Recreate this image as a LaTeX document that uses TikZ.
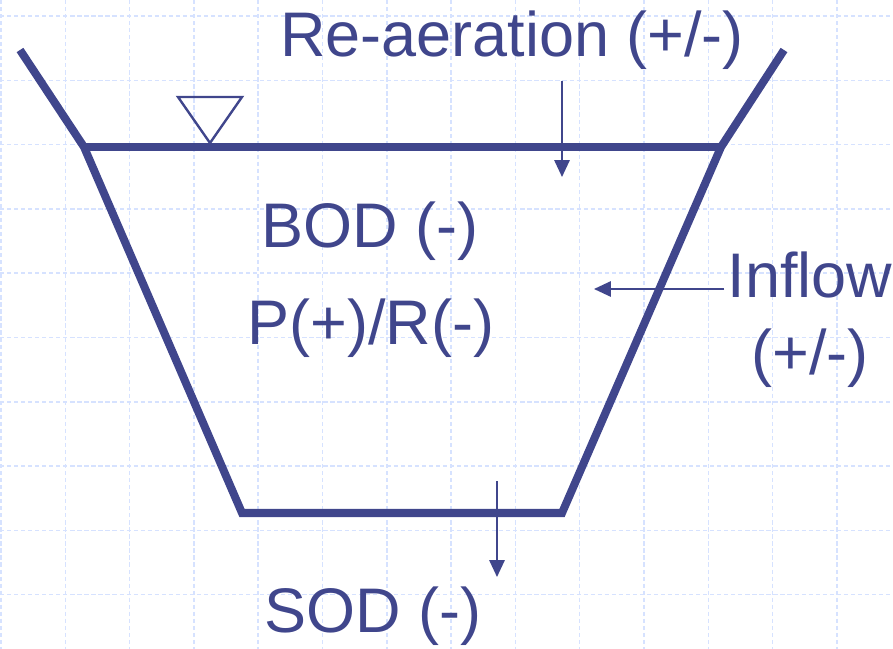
\documentclass[tikz,border=0pt]{standalone}
\usepackage{fontspec}
\setmainfont{Liberation Sans}
\usepackage{xcolor}
\usetikzlibrary{arrows.meta}
\usetikzlibrary{positioning}

\definecolor{chanblue}{RGB}{64,70,140}
\definecolor{gridblue}{RGB}{214,226,255}

\begin{document}
\begin{tikzpicture}[
  x=0.025cm, y=-0.025cm,
  label/.style={anchor=base, inner sep=0pt, text=chanblue,
    font=\fontsize{44.8pt}{54pt}\selectfont},
  bank/.style={draw=chanblue, line width=5.7pt, line join=miter},
  flux/.style={-{Triangle[length=4.2mm, width=3.8mm]}, draw=chanblue, fill=chanblue, line width=1.4pt},
]
  \useasboundingbox (0,0) rectangle (893,649);

  % Grid
  \foreach \i in {0,...,13}
    \draw[gridblue, line width=1.1pt, dash pattern=on 3pt off 2pt] (1+64.3*\i,0) -- (1+64.3*\i,649);
  \foreach \j in {0,...,9}
    \draw[gridblue, line width=1.1pt, dash pattern=on 3pt off 2pt] (0,16+64.3*\j) -- (893,16+64.3*\j);

  % Channel
  \coordinate (LT) at (20,50);
  \coordinate (LW) at (84,147);
  \coordinate (LB) at (242,513);
  \coordinate (RB) at (562,513);
  \coordinate (RW) at (721,147);
  \coordinate (RT) at (784,50);
  \draw[bank] (LT) -- (LW) -- (LB) -- (RB) -- (RW) -- (RT);
  \draw[bank] (LW) -- (RW);

  % Water level mark
  \draw[chanblue, line width=1.7pt, line join=miter] (178,97) -- (242,97) -- (210,143) -- cycle;

  % Nodes
  \node[label] (reaer) at (512,57)  {Re-aeration (+/-)};
  \node[label] (bod)   at (370,248) {BOD (-)};
  \node[label] (pr)    at (371,344) {P(+)/R(-)};
  \node[label] (inflow) at (810,297) {Inflow};
  \node[label] (inpm)  at (810,374) {(+/-)};
  \node[label] (sod)   at (373,632) {SOD (-)};

  \coordinate (reA) at (562,81);
  \coordinate (reB) at (562,177);
  \coordinate (inA) at (724,289);
  \coordinate (inB) at (594,289);
  \coordinate (soA) at (497,481);
  \coordinate (soB) at (497,577);

  % Edges
  \draw[flux] (reA) -- (reB);
  \draw[flux] (inA) -- (inB);
  \draw[flux] (soA) -- (soB);
\end{tikzpicture}
\end{document}
